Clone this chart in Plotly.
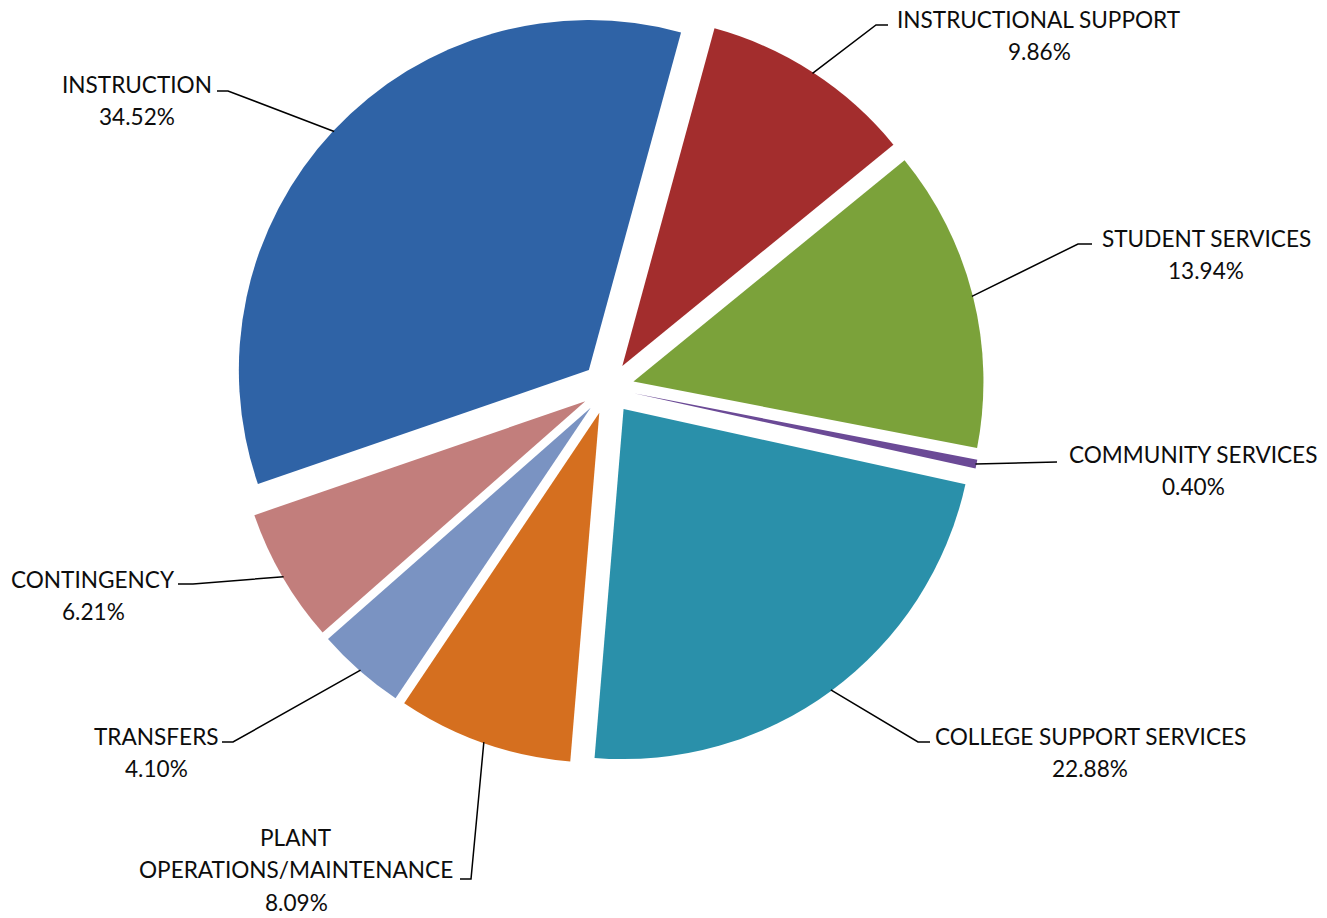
import math
import plotly.graph_objects as go

# ---- data ----
categories = ["INSTRUCTION", "INSTRUCTIONAL SUPPORT", "STUDENT SERVICES", "COMMUNITY SERVICES",
              "COLLEGE SUPPORT SERVICES", "PLANT OPERATIONS/MAINTENANCE", "TRANSFERS", "CONTINGENCY"]
label_lines = [["INSTRUCTION"], ["INSTRUCTIONAL SUPPORT"], ["STUDENT SERVICES"], ["COMMUNITY SERVICES"],
               ["COLLEGE SUPPORT SERVICES"], ["PLANT", "OPERATIONS/MAINTENANCE"], ["TRANSFERS"], ["CONTINGENCY"]]
values = [34.52, 9.86, 13.94, 0.40, 22.88, 8.09, 4.10, 6.21]
colors = ["#2F63A6", "#A32D2D", "#7BA23A", "#6B4A96", "#2A90AA", "#D56F1F", "#7A93C2", "#C27E7C"]

# ---- layout (pixels) ----
W, H = 1327, 918
CX, CY = 608, 388
PULL = 0.075
R = 350
HALF = R * (1 + PULL)
ROT = 251  # start angle of first slice, clockwise from 12 o'clock

# label: center x, y of first line (px); line pitch
label_x = [137, 1039, 1206, 1193, 1090, 296, 156, 93]
label_y0 = [83, 18, 237, 453, 735, 836, 735, 578]
LINE_PITCH = 32.5
leader_start = [(217, 91), (888, 25), (1092, 244), (1057, 462),
                (930, 742), (460, 879), (222, 742), (178, 584)]
leader_elbow = [(228, 91), (876, 25), (1078, 244), (1057, 462),
                (918, 742), (471, 879), (233, 742), (193, 584)]

def px(x):
    return x / W

def py(y):
    return 1 - y / H

fig = go.Figure(go.Pie(
    labels=categories, values=values, sort=False, direction="clockwise",
    rotation=ROT - 360, pull=[PULL] * len(values),
    marker=dict(colors=colors, line=dict(width=0)),
    textinfo="none", hoverinfo="label+percent", showlegend=False,
    domain=dict(x=[px(CX - HALF), px(CX + HALF)], y=[py(CY + HALF), py(CY - HALF)]),
))

total = sum(values)
shapes = []
annotations = []
cum = 0.0
for i, v in enumerate(values):
    mid = math.radians(ROT + (cum + v / 2) / total * 360)
    cum += v
    dist = R * (1 + PULL) - 1
    ex = CX + dist * math.sin(mid)
    ey = CY - dist * math.cos(mid)
    sx, sy = leader_start[i]
    bx, by = leader_elbow[i]
    path = f"M {px(sx)} {py(sy)} L {px(bx)} {py(by)} L {px(ex)} {py(ey)}"
    shapes.append(dict(type="path", xref="paper", yref="paper", path=path,
                       line=dict(color="#000000", width=1.5)))
    lines = label_lines[i] + [f"{v:.2f}%"]
    for k, t in enumerate(lines):
        annotations.append(dict(
            x=px(label_x[i]), y=py(label_y0[i] + k * LINE_PITCH + 1), xref="paper", yref="paper",
            xanchor="center", yanchor="middle", text=t, showarrow=False,
            font=dict(family="Lato, Open Sans, sans-serif", size=22.6, color="#0d0d0d"),
        ))

fig.update_layout(
    width=W, height=H, margin=dict(l=0, r=0, t=0, b=0),
    paper_bgcolor="white", plot_bgcolor="white",
    shapes=shapes, annotations=annotations,
)

fig.write_html("out.html", config={"displayModeBar": False},
               post_script="document.body.style.margin='0px';")
